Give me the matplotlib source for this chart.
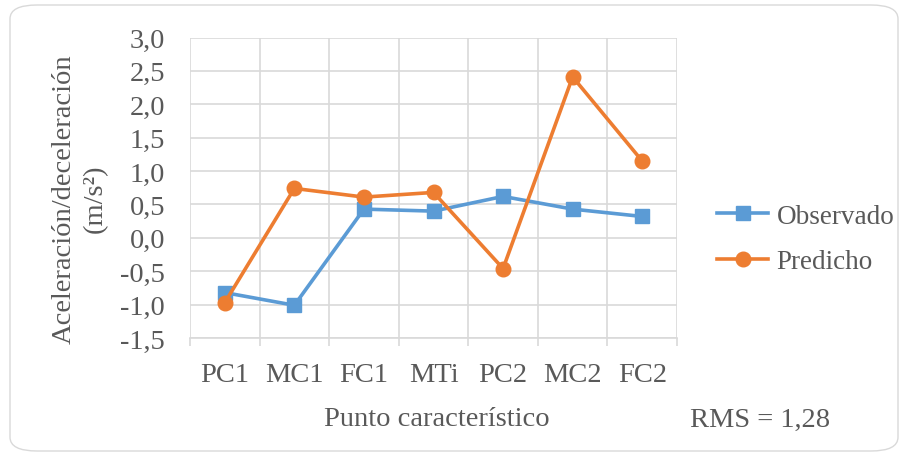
import matplotlib
matplotlib.use("Agg")
import matplotlib.pyplot as plt
from matplotlib.patches import FancyBboxPatch
from matplotlib.lines import Line2D
from matplotlib.ticker import FuncFormatter, FixedLocator

categories = ["PC1", "MC1", "FC1", "MTi", "PC2", "MC2", "FC2"]
observado = [-0.82, -1.01, 0.43, 0.40, 0.62, 0.43, 0.32]
predicho = [-0.97, 0.74, 0.61, 0.68, -0.46, 2.41, 1.15]
series_names = ["Observado", "Predicho"]
rms_text = "RMS = 1,28"

BLUE = "#5B9BD5"
ORANGE = "#ED7D31"
TEXT = "#595959"
GRID = "#D9D9D9"
FS = 20.5

plt.rcParams["font.family"] = ["Liberation Serif", "DejaVu Serif"]

fig = plt.figure(figsize=(9.05, 4.6), dpi=100)
fig.patch.set_facecolor("white")

# rounded frame around the whole chart
frame = FancyBboxPatch((10 / 905, 8 / 460), 888 / 905, 446 / 460,
                       boxstyle="round,pad=0,rounding_size=0.03",
                       transform=fig.transFigure, facecolor="none",
                       edgecolor="#D9D9D9", linewidth=1.0, zorder=-1)
fig.patches.append(frame)

ax = fig.add_axes([190 / 905, 1 - 339 / 460, 487 / 905, 300.5 / 460])
ax.set_facecolor("none")

x = list(range(len(categories)))
ax.plot(x, observado, color=BLUE, lw=2.6, marker="s", markersize=10,
        label=series_names[0], zorder=3)
ax.plot(x, predicho, color=ORANGE, lw=2.6, marker="o", markersize=10.5,
        label=series_names[1], zorder=4)

ax.set_xlim(-0.5, len(categories) - 0.5)
ax.set_ylim(-1.5, 3.0)
ax.set_yticks([-1.5 + 0.5 * i for i in range(10)])
ax.yaxis.set_major_formatter(FuncFormatter(lambda v, p: f"{v:.1f}".replace(".", ",")))
ax.set_xticks(x)
ax.set_xticklabels(categories)
ax.xaxis.set_minor_locator(FixedLocator([i - 0.5 for i in range(len(categories) + 1)]))

ax.grid(True, axis="y", color=GRID, lw=1.2, zorder=0)
ax.grid(True, axis="x", which="minor", color=GRID, lw=1.2, zorder=0)
for s in ["top", "right", "left"]:
    ax.spines[s].set_visible(False)
ax.spines["bottom"].set_color(GRID)
ax.spines["bottom"].set_linewidth(1.2)

ax.tick_params(axis="y", length=0, pad=18, labelsize=FS, labelcolor=TEXT)
ax.tick_params(axis="x", which="major", length=0, pad=17, labelsize=FS, labelcolor=TEXT)
ax.tick_params(axis="x", which="minor", length=6, width=1.2, color=GRID, direction="out")

fig.text(80 / 905, 1 - 199 / 460, "Aceleración/deceleración\n(m/s²)",
         rotation=90, fontsize=FS, color=TEXT, ha="center", va="center",
         multialignment="center", linespacing=1.3)
fig.text(437 / 905, 1 - 420 / 460, "Punto característico", fontsize=FS,
         color=TEXT, ha="center", va="center")
fig.text(760 / 905, 1 - 420 / 460, rms_text, fontsize=FS, color=TEXT,
         ha="center", va="center")

handles = [Line2D([], [], color=BLUE, lw=2.6, marker="s", markersize=10),
           Line2D([], [], color=ORANGE, lw=2.6, marker="o", markersize=10.5)]
leg = fig.legend(handles, series_names, loc="center left",
                 bbox_to_anchor=(706 / 905, 1 - 240 / 460), frameon=False,
                 fontsize=19.5, handlelength=1.9, handletextpad=0.3,
                 labelspacing=0.75, borderaxespad=0)
for t in leg.get_texts():
    t.set_color(TEXT)

fig.savefig("out.png", dpi=100)
